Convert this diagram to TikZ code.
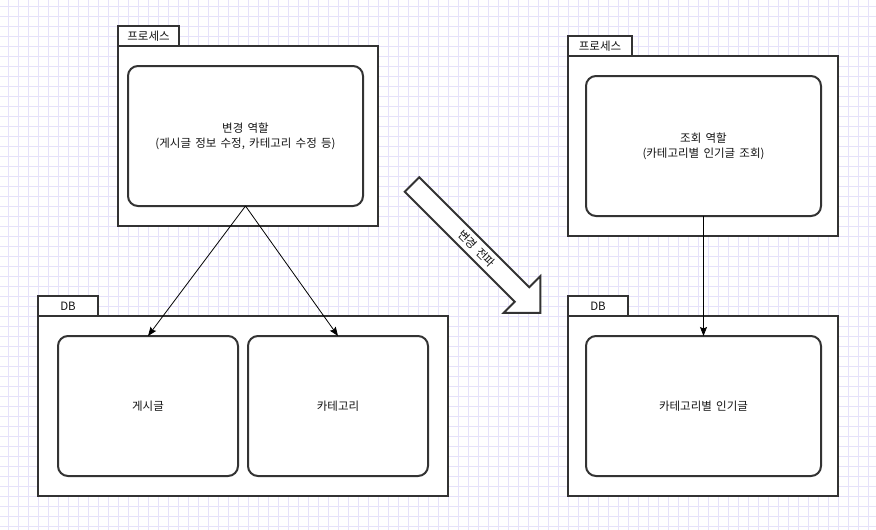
\documentclass[tikz,border=0pt]{standalone}
\usepackage{fontspec}
\setmainfont{Noto Sans CJK KR}
\usetikzlibrary{arrows.meta}
\definecolor{gridc}{RGB}{230,226,250}
\definecolor{strokec}{RGB}{51,51,51}
\definecolor{textc}{RGB}{20,20,20}
\newcommand\myrolefont{\fontsize{11.5}{15}\selectfont\spaceskip=4.2pt\relax}
\begin{document}
\begin{tikzpicture}[x=1pt,y=-1pt,
  box/.style={draw=strokec, line width=2pt, fill=white, inner sep=0pt, outer sep=0pt, text=textc},
  tabbox/.style={box, font=\fontsize{11.5}{13}\selectfont},
  role/.style={box, rounded corners=10pt, align=center, font=\myrolefont},
  conn/.style={-{Stealth[length=9pt,width=7pt,inset=1.5pt]}, line width=0.8pt, black},
  blockarrow/.style={draw=strokec, line width=2pt, fill=white, line join=miter},
  arrowlabel/.style={text=textc, font=\myrolefont, inner sep=0pt}]
\useasboundingbox (0,0) rectangle (876,530);
\fill[white] (0,0) rectangle (876,530);
\foreach \x in {8,18,...,868} \draw[gridc, line width=0.8pt] (\x,0) -- (\x,530);
\foreach \y in {6,16,...,526} \draw[gridc, line width=0.8pt] (0,\y) -- (876,\y);

% left process
\node[box, minimum width=260pt, minimum height=180pt] (proc1) at (248,136) {};
\node[tabbox, minimum width=61pt, minimum height=20pt] (tab1) at (148.5,36) {프로세스};
\node[role, minimum width=235pt, minimum height=140pt] (role1) at (245.5,136) {변경 역할\\(게시글 정보 수정, 카테고리 수정 등)};

% right process
\node[box, minimum width=270pt, minimum height=180pt] (proc2) at (703,146) {};
\node[tabbox, minimum width=64pt, minimum height=20pt] (tab2) at (600,46) {프로세스};
\node[role, minimum width=235pt, minimum height=140pt] (role2) at (703.5,146) {조회 역할\\(카테고리별 인기글 조회)};

% left DB
\node[box, minimum width=410pt, minimum height=180pt] (db1) at (243,406) {};
\node[tabbox, minimum width=60pt, minimum height=20pt] (tab3) at (68,306) {DB};
\node[role, minimum width=180pt, minimum height=140pt] (post) at (148,406) {게시글};
\node[role, minimum width=180pt, minimum height=140pt] (cat) at (338,406) {카테고리};

% right DB
\node[box, minimum width=270pt, minimum height=180pt] (db2) at (703,406) {};
\node[tabbox, minimum width=60pt, minimum height=20pt] (tab4) at (598,306) {DB};
\node[role, minimum width=235pt, minimum height=140pt] (popular) at (703.5,406) {카테고리별 인기글};

% connectors
\draw[conn] (role1.south) -- (post.north);
\draw[conn] (role1.south) -- (cat.north);
\draw[conn] (role2.south) -- (popular.north);

% block arrow
\begin{scope}[shift={(412,184.5)}, rotate=-45]
\draw[blockarrow] (0,-10.25) -- (155.6,-10.25) -- (155.6,-25.8) -- (181.4,0) -- (155.6,25.8) -- (155.6,10.25) -- (0,10.25) -- cycle;
\end{scope}
\node[arrowlabel, rotate=-45] (spread) at (477,248.5) {변경 전파};
\end{tikzpicture}
\end{document}
